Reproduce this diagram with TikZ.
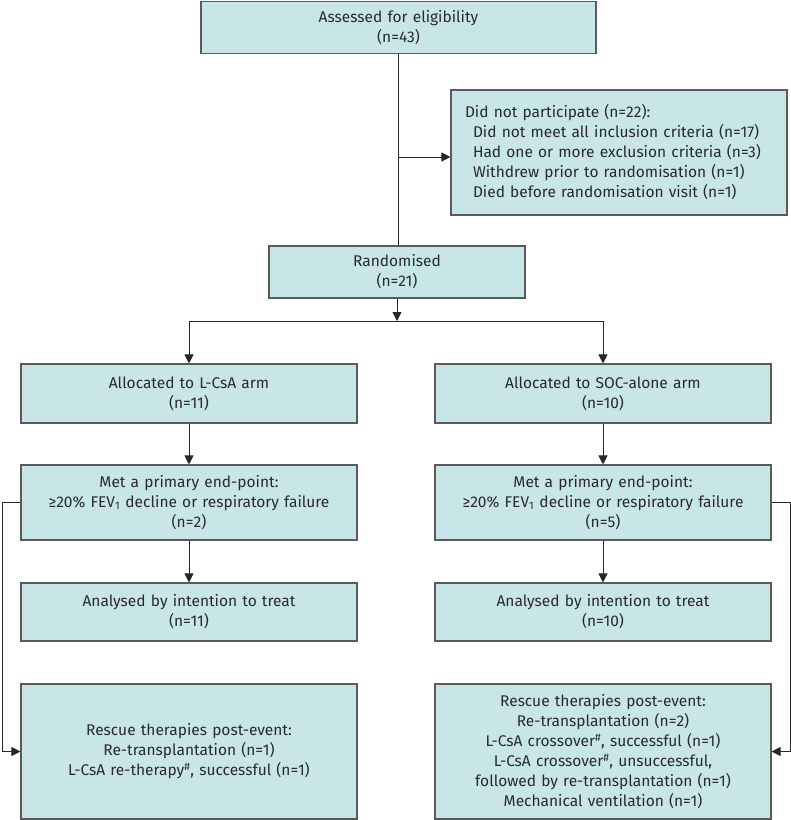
\documentclass[tikz,border=0pt]{standalone}
\usepackage{fontspec}
\setmainfont{Fira Sans}
\usetikzlibrary{arrows.meta}
\definecolor{boxfill}{HTML}{C8E6E8}
\definecolor{boxline}{HTML}{5A5A5A}
\definecolor{txtgray}{HTML}{2A2A2A}

\begin{document}
\begin{tikzpicture}[x=1bp,y=-1bp,
  box/.style 2 args={draw=boxline,fill=boxfill,line width=1.1bp,inner sep=0pt,
    align=center,text=txtgray,text width=#1,minimum height=#2,
    font=\fontsize{15.5bp}{20bp}\selectfont},
  link/.style={line width=0.9bp,draw=black!85},
  arr/.style={link,-{Triangle[length=9bp,width=9bp]}}]
\useasboundingbox (0,0) rectangle (791,820);

% top part
\node[box={395bp}{52bp}] (assess) at (398.5,27.5) {Assessed for eligibility\\(n=43)};
\node[box={336bp}{125bp},align=left] (skip) at (619,152.5)
  {\hspace*{14bp}Did not participate (n=22):\\
   \hspace*{22bp}Did not meet all inclusion criteria (n=17)\\
   \hspace*{22bp}Had one or more exclusion criteria (n=3)\\
   \hspace*{22bp}Withdrew prior to randomisation (n=1)\\
   \hspace*{22bp}Died before randomisation visit (n=1)};
\node[box={256bp}{52bp}] (rand) at (397,272) {Randomised\\(n=21)};

% L-CsA arm
\node[box={336bp}{59bp}] (allocL) at (189,393.5) {Allocated to L-CsA arm\\(n=11)};
\node[box={336bp}{75bp}] (metL) at (189,502.5)
  {Met a primary end-point:\\≥20\% FEV\textsubscript{1} decline or respiratory failure\\(n=2)};
\node[box={336bp}{58bp}] (anaL) at (189,612) {Analysed by intention to treat\\(n=11)};
\node[box={336bp}{135bp}] (resL) at (189,751.5)
  {Rescue therapies post-event:\\Re-transplantation (n=1)\\
   L-CsA re-therapy\textsuperscript{\#}, successful (n=1)};

% SOC-alone arm
\node[box={336bp}{59bp}] (allocR) at (603,393.5) {Allocated to SOC-alone arm\\(n=10)};
\node[box={336bp}{75bp}] (metR) at (603,502.5)
  {Met a primary end-point:\\≥20\% FEV\textsubscript{1} decline or respiratory failure\\(n=5)};
\node[box={336bp}{58bp}] (anaR) at (603,612) {Analysed by intention to treat\\(n=10)};
\node[box={336bp}{135bp}] (resR) at (603,751.5)
  {Rescue therapies post-event:\\Re-transplantation (n=2)\\
   L-CsA crossover\textsuperscript{\#}, successful (n=1)\\
   L-CsA crossover\textsuperscript{\#}, unsuccessful,\\
   followed by re-transplantation (n=1)\\
   Mechanical ventilation (n=1)};

% connectors
\coordinate (out) at (398,157);
\coordinate (split) at (397,321);
\coordinate (farL) at (2,0);
\coordinate (farR) at (790,0);
\draw[link] (assess.south -| out) -- (rand.north -| out);
\draw[arr] (out) -- (out -| skip.west);
\draw[arr] (rand.south) -- (split);
\draw[link] (split -| allocL.north) -- (split -| allocR.north);
\draw[arr] (split -| allocL.north) -- (allocL.north);
\draw[arr] (split -| allocR.north) -- (allocR.north);
\draw[arr] (allocL) -- (metL);
\draw[arr] (allocR) -- (metR);
\draw[arr] (metL) -- (anaL);
\draw[arr] (metR) -- (anaR);
\draw[arr] (metL.west) -- (metL.west -| farL) |- (resL.west);
\draw[arr] (metR.east) -- (metR.east -| farR) |- (resR.east);
\end{tikzpicture}
\end{document}
